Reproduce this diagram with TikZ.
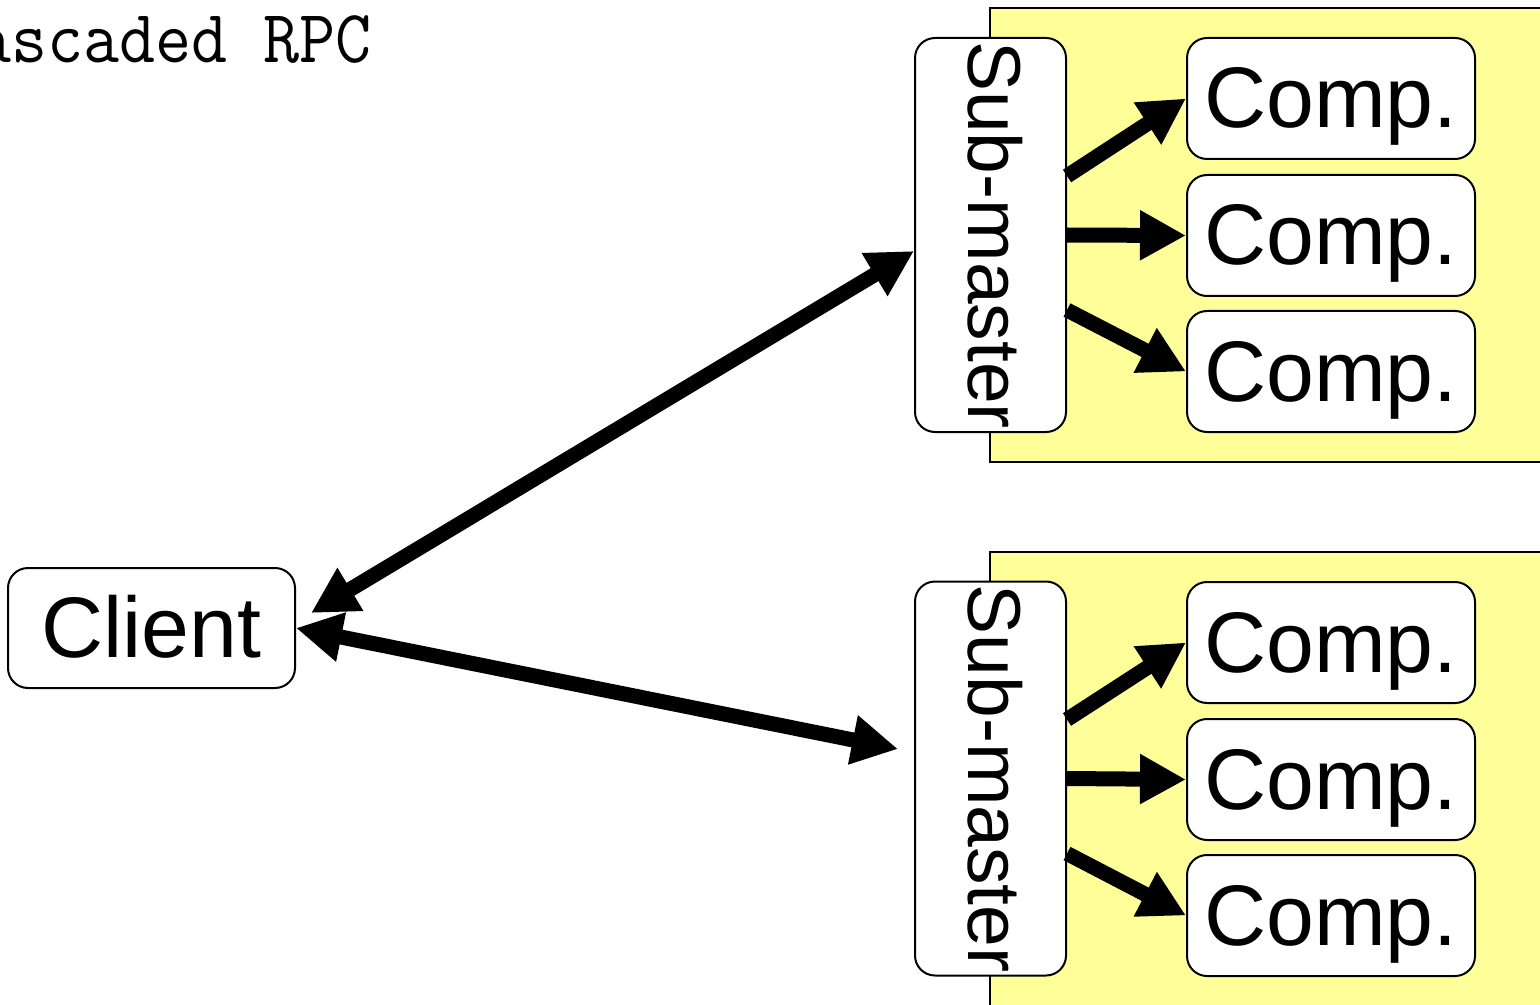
\documentclass[tikz,border=0pt]{standalone}
\usepackage{fontspec}
\setmainfont{Liberation Sans}
\usetikzlibrary{arrows.meta,calc}
\definecolor{pale}{HTML}{FFFF99}
\tikzset{
  box/.style={draw,fill=white,rounded corners=10pt,line width=1pt,inner sep=0pt},
  comp/.style={box,minimum width=144pt,minimum height=60.5pt,text height=31.5pt,text depth=2pt,font=\fontsize{43}{50}\selectfont},
  sub/.style={box,rotate=-90,minimum width=197pt,minimum height=75.5pt,text depth=5pt,font=\fontsize{37.5}{40}\selectfont},
  call/.style={line width=7.5pt,-{Triangle[length=23pt,width=23.5pt]}},
  dcall/.style={line width=7.5pt,{Triangle[length=23pt,width=23.5pt]}-{Triangle[length=23pt,width=23.5pt]}}
}
\begin{document}
\begin{tikzpicture}[x=0.5pt,y=-0.5pt]
  \clip (0,0) rectangle (1540,1005);
  \node[anchor=base west,inner sep=0pt,font={\ttfamily\fontsize{35}{38}\selectfont}] (title) at (-25,63) {\scalebox{1}[1.075]{ascaded RPC}};
  % the two groups
  \draw[fill=pale,line width=1pt] (990,8) rectangle (1560,462);
  \draw[fill=pale,line width=1pt] (990,552) rectangle (1560,1030);
  \node[comp,minimum width=143.5pt,minimum height=60pt] (client) at (151.5,628) {Client};
  \node[sub] (sub1) at (990.5,235) {Sub-master};
  \node[sub] (sub2) at (990.5,778.5) {Sub-master};
  \foreach \i/\y in {1/98.5,2/235.5,3/371.5}{
    \node[comp] (c1\i) at (1331,\y) {Comp.};
    \node[comp] (c2\i) at (1331,\y+544) {Comp.};
  }
  \foreach \i/\dy in {1/-59,2/0,3/75}{
    \draw[call] ($(sub1.north)+(0,\dy)$)--(c1\i.west);
    \draw[call] ($(sub2.north)+(0,\dy)$)--(c2\i.west);
  }
  \draw[dcall] ($(client.east)+(15,-15)$)--($(sub1.south)+(0,16)$);
  \draw[dcall] (client.east)--($(sub2.south)+(-16,-29.5)$);
\end{tikzpicture}
\end{document}
